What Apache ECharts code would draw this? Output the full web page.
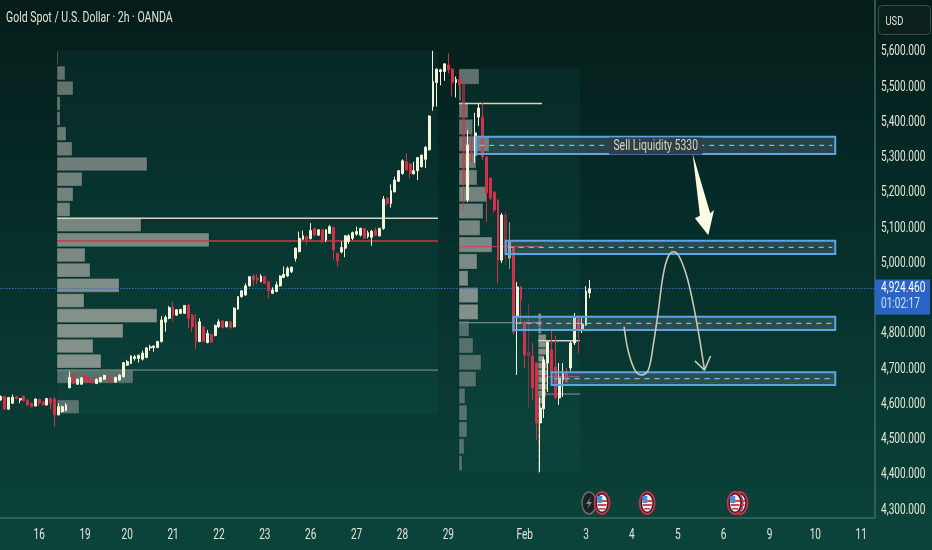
<!DOCTYPE html>
<html><head><meta charset="utf-8">
<style>html,body{margin:0;padding:0;background:#0a3530}#c{width:932px;height:550px}</style>
<script src="https://cdn.jsdelivr.net/npm/echarts@6/dist/echarts.min.js"></script></head>
<body><div id="c"></div>
<script>
// Price ticks and day labels
const priceTicks = [4300,4400,4500,4600,4700,4800,5000,5100,5200,5300,5400,5500,5600];
const dayTickBars = [10,22,33,45,57,69,81,93,105,117,137,153,165,177,189,201,213,225];
const dayLabels = ['16','19','20','21','22','23','26','27','28','29','Feb','3','4','5','6','9','10','11'];
const lastPrice = 4924.46;
const countdown = '01:02:17';
const chartTitle = 'Gold Spot / U.S. Dollar · 2h · OANDA';
const currency = 'USD';
// [open, close, low, high] per 2h bar
const candles = [
[4608,4618,4606,4621],[4618,4582,4580,4620],[4582,4615,4580,4617],[4599,4616,4597,4624],[4618,4612,4610,4620],
[4608,4612,4599,4613],[4618,4606,4604,4622],[4608,4594,4592,4610],[4599,4589,4587,4601],[4591,4611,4590,4612],
[4610,4599,4591,4611],[4603,4594,4592,4605],[4594,4612,4592,4614],[4612,4599,4582,4614],[4610,4566,4533,4618],
[4566,4589,4564,4599],[4575,4589,4573,4592],[4578,4594,4576,4599],[4643,4672,4641,4689],[4682,4655,4653,4684],
[4653,4667,4651,4669],[4653,4671,4651,4673],[4679,4660,4658,4682],[4670,4660,4658,4672],[4665,4657,4655,4667],
[4655,4667,4653,4669],[4660,4672,4658,4674],[4667,4678,4665,4680],[4674,4665,4663,4676],[4667,4660,4658,4669],
[4659,4672,4657,4674],[4665,4679,4663,4681],[4674,4714,4672,4716],[4707,4717,4705,4722],[4712,4733,4710,4735],
[4726,4731,4720,4736],[4726,4735,4714,4737],[4724,4741,4720,4748],[4729,4756,4727,4758],[4756,4759,4748,4765],
[4757,4761,4745,4763],[4757,4774,4755,4776],[4774,4835,4771,4847],[4829,4843,4802,4848],[4840,4870,4837,4875],
[4873,4849,4830,4887],[4849,4864,4847,4866],[4854,4865,4852,4867],[4854,4876,4852,4878],[4878,4840,4812,4880],
[4849,4816,4802,4851],[4823,4774,4753,4851],[4774,4830,4772,4840],[4816,4774,4772,4818],[4771,4797,4769,4807],
[4794,4772,4770,4796],[4791,4820,4789,4822],[4816,4830,4812,4837],[4832,4814,4811,4835],[4816,4830,4814,4832],
[4830,4814,4809,4832],[4816,4869,4814,4871],[4866,4901,4864,4903],[4901,4918,4899,4920],[4906,4932,4904,4939],
[4932,4958,4930,4960],[4960,4949,4932,4965],[4954,4949,4937,4965],[4944,4960,4942,4965],[4958,4939,4937,4960],
[4944,4918,4897,4946],[4911,4920,4909,4928],[4916,4935,4914,4944],[4932,4960,4930,4962],[4956,4965,4954,4987],
[4960,4982,4958,4987],[4972,4985,4968,4987],[5010,5039,5001,5041],[5029,5067,5027,5086],[5064,5074,5062,5089],
[5072,5062,5049,5074],[5066,5089,5064,5110],[5095,5076,5074,5097],[5076,5091,5074,5093],[5091,5062,5053,5093],
[5062,5091,5056,5093],[5081,5100,5079,5105],[5098,5034,5007,5100],[5024,5003,4988,5026],[5028,5041,5024,5058],
[5039,5074,5013,5076],[5058,5074,5051,5079],[5067,5083,5062,5086],[5079,5086,5074,5100],[5076,5095,5072,5097],
[5095,5067,5065,5097],[5072,5083,5067,5089],[5070,5087,5046,5091],[5089,5075,5073,5098],[5074,5095,5072,5097],
[5095,5178,5091,5187],[5181,5166,5160,5183],[5166,5202,5154,5220],[5199,5232,5197,5242],[5229,5259,5227,5261],
[5251,5287,5247,5291],[5284,5261,5259,5308],[5278,5251,5237,5280],[5250,5259,5248,5284],[5259,5296,5232,5298],
[5270,5303,5268,5305],[5291,5325,5267,5329],[5318,5414,5316,5416],[5441,5512,5429,5599],[5509,5547,5441,5549],
[5540,5545,5501,5548],[5540,5562,5514,5564],[5559,5545,5535,5592],[5547,5509,5469,5550],[5509,5518,5467,5526],
[5518,5502,5497,5540],[5507,5224,5147,5510],[5176,5332,5170,5374],[5312,5309,5281,5360],[5303,5366,5281,5423],
[5411,5437,5386,5451],[5411,5298,5289,5451],[5298,5196,5113,5300],[5238,5181,5175,5240],[5198,5147,5140,5200],
[5176,5005,4940,5178],[5005,5133,4997,5139],[5133,5020,4991,5144],[5011,5057,4980,5113],[5042,4801,4795,5045],
[4844,4929,4679,4943],[4929,4892,4829,4931],[4829,4736,4699,4831],[4745,4733,4585,4881],[4733,4642,4608,4770],
[4713,4543,4495,4715],[4543,4585,4404,4617],[4583,4722,4557,4730],[4713,4773,4631,4775],[4750,4685,4683,4807],
[4702,4614,4612,4790],[4614,4671,4594,4713],[4665,4685,4617,4713],[4685,4659,4657,4699],[4699,4770,4691,4775],
[4770,4841,4764,4855],[4841,4807,4741,4843],[4810,4824,4798,4841],[4821,4917,4818,4931],[4912,4924,4897,4949]
];
const fadedBars = [121,132,133,138];
// Volume profiles (rows top to bottom)
const profile1Volumes = [1,8,16,3,3,9,15,90,25,16,13,84,152,28,33,62,27,100,66,36,44,76,0,22];
const profile2Volumes = [20,2,9,13.5,30,17,18,28,24,21,33,18,9,19,19,10,14,22,17,6,8,8,5,3];
const profile3Volumes = [3,3,3,8,8,8,6,9,10,10,9,8,5,3,3,2,2,2,2,2,2,2,1];
const profile1Faint = [21,23];
const profile2Faint = [15,16,17,18,19,20,21,22,23];
const profile3Faint = [];
const profile1Range = {startBar:14.65, top:5598.6, step:43.05};
const profile2Range = {startBar:119.8, top:5547.5, step:47.7};
const profile3Range = {startBar:140.5, top:4854, step:19.9};
const sessionBoxes = [[14.9,114.3,5598.6,4568],[119.8,151.4,5550,4404]];
// [fromBar, toBar, price, kind]
const levelLines = [
[14.65,114.3,5124,'cream'],[14.65,114.3,5059.3,'red'],[14.65,114.3,4693,'grey'],
[119.8,141.5,5449.6,'cream'],[119.8,141.5,5043.2,'redThin'],[119.8,141.5,4827.8,'grey'],
[140.5,151.4,4776.4,'cream'],[140.5,151.4,4674.2,'redThin'],[140.5,151.4,4625,'grey']];
// [fromBar, toBar, highPrice, lowPrice]
const zones = [[124.3,218.2,5355.3,5306],[132,218.2,5060,5022.5],[134,218.2,4844.5,4806.8],[144,218.2,4686.7,4650.7]];
const zoneLabel = 'Sell Liquidity 5330';
const curveBars = [162.96,164.1,165.8,167.6,169.3,170.6,171.9,173.2,174.5,175.9,177.4,179.4,181.1,182.7,184];
const curvePrices = [4816,4745,4693,4679,4693,4764,4859,4963,5015,5029,5015,4958,4878,4783,4693];
const curveHeadBars = [181.5,184,185.6];
const curveHeadPrices = [4719,4693,4733];
const downArrowBars = [180.9,185.5,186.5,185,181.5,182.8];
const downArrowPrices = [5308,5138,5147,5076,5124,5131];
const eventBars = [153.8,193.3,192,169,157.2];
const eventKinds = ['bolt','flag','flag','flag','flag'];
const eventPrice = 4315.8;

const FONT = 'Roboto,"Liberation Sans",sans-serif';
const SQUEEZE = 0.72;
const chart = echarts.init(document.getElementById('c'));
const profileRows = (vols, r, faint) => vols.map((v,i)=>[r.startBar, r.top-i*r.step, r.top-(i+0.9)*r.step, v, faint.includes(i)?1:0]);
const allProfile = [].concat(profileRows(profile1Volumes,profile1Range,profile1Faint),profileRows(profile2Volumes,profile2Range,profile2Faint),profileRows(profile3Volumes,profile3Range,profile3Faint));
const lineStyles = {cream:{stroke:'#d5d6bd',lineWidth:1.4},red:{stroke:'#d2354a',lineWidth:1.6},redThin:{stroke:'#c9405a',lineWidth:1},grey:{stroke:'#74877f',lineWidth:1.2}};
const barsPerVol = 1/3.823;
const squeezedText = (x,y,text,fill,size,align) => ({type:'text',x:x,y:y,scaleX:SQUEEZE,style:{x:0,y:0,text:text,fill:fill,font:size+'px '+FONT,align:align||'left',verticalAlign:'middle'}});

chart.setOption({
  animation:false,
  backgroundColor:{type:'linear',x:0,y:0,x2:0,y2:1,colorStops:[{offset:0,color:'#051c19'},{offset:.35,color:'#052b27'},{offset:1,color:'#0b443b'}]},
  grid:{left:0,right:57,top:0,bottom:32,outerBoundsMode:'none'},
  xAxis:{type:'value',min:-0.26,max:228.6,position:'bottom',splitLine:{show:false},axisTick:{show:false},
    axisLine:{show:true,onZero:false,lineStyle:{color:'#3f6a60',width:1.5}},axisLabel:{show:false}},
  yAxis:{type:'value',min:4273.2,max:5743.3,position:'right',splitLine:{show:false},axisTick:{show:false},
    axisLine:{show:true,onZero:false,lineStyle:{color:'#3f6a60',width:1.5}},axisLabel:{show:false}},
  graphic:[{type:'group',left:878,top:5,silent:true,children:[
    {type:'rect',shape:{x:0,y:0,width:52,height:29,r:4},style:{fill:'#0b1f1c',stroke:'#33514a',lineWidth:1}},
    squeezedText(7,16,currency,'#dfe3d2',13)]},
    {type:'group',left:6,top:11,silent:true,children:[squeezedText(0,9.5,chartTitle,'#e0e4d4',14.6)]}],
  series:[
    {type:'custom',name:'sessions',z:1,silent:true,data:sessionBoxes,renderItem:(p,api)=>{
      const a=api.coord([api.value(0),api.value(2)]),b=api.coord([api.value(1),api.value(3)]);
      return {type:'rect',shape:{x:a[0],y:a[1],width:b[0]-a[0],height:b[1]-a[1]},style:{fill:'rgba(30,125,115,0.10)'}};}},
    {type:'custom',name:'profile',z:2,silent:true,clip:false,data:allProfile,renderItem:(p,api)=>{
      if(!api.value(3))return null;
      const a=api.coord([api.value(0),api.value(1)]),b=api.coord([api.value(0)+api.value(3)*barsPerVol,api.value(2)]);
      const alpha=api.value(4)?0.42:Math.min(0.68,0.48+0.2*(a[1]-50)/250);
      return {type:'rect',shape:{x:a[0],y:a[1],width:b[0]-a[0],height:b[1]-a[1]},style:{fill:'rgba(190,185,180,'+alpha+')',stroke:'rgba(0,30,25,.25)',lineWidth:1}};}},
    {type:'custom',name:'levels',z:3,silent:true,data:levelLines,renderItem:(p,api)=>{
      const r=levelLines[p.dataIndex];const a=api.coord([r[0],r[2]]),b=api.coord([r[1],r[2]]);
      return {type:'line',shape:{x1:a[0],y1:a[1],x2:b[0],y2:b[1]},style:lineStyles[r[3]]};}},
    {type:'line',name:'last',z:4,silent:true,symbol:'none',data:[[-0.26,lastPrice],[228.6,lastPrice]],lineStyle:{color:'#2f6fc4',width:1,type:[1.5,1.5]}},
    {type:'candlestick',name:'XAUUSD',z:5,silent:true,barWidth:2.4,encode:{x:0,y:[1,2,3,4]},
      itemStyle:{color:'#f4f4da',color0:'#d0324a',borderColor:'#f4f4da',borderColor0:'#d0324a',borderWidth:1},
      data:candles.map((c,i)=>fadedBars.includes(i)?{value:[i,c[0],c[1],c[2],c[3]],itemStyle:{opacity:.55}}:[i,c[0],c[1],c[2],c[3]])},
    {type:'custom',name:'zones',z:6,silent:true,data:zones,renderItem:(p,api)=>{
      const r=zones[p.dataIndex];const a=api.coord([r[0],r[2]]),b=api.coord([r[1],r[3]]);const my=(a[1]+b[1])/2;
      const kids=[
        {type:'rect',shape:{x:a[0],y:a[1],width:b[0]-a[0],height:b[1]-a[1]},style:{fill:'rgba(130,145,165,0.28)',stroke:'#5aa5e6',lineWidth:2}},
        {type:'line',shape:{x1:a[0]+3,y1:my,x2:b[0]-3,y2:my},style:{stroke:'#72bce8',lineWidth:1.2,lineDash:[5,5]}}];
      if(p.dataIndex===0){const t=squeezedText((a[0]+b[0])/2,my+0.5,zoneLabel,'#d6d4c4',14.5,'center');t.style.backgroundColor='#2d4047';t.style.padding=[1,6];kids.push(t);}
      return {type:'group',children:kids};}},
    {type:'line',name:'path',z:7,silent:true,symbol:'none',smooth:.35,data:curveBars.map((b,i)=>[b,curvePrices[i]]),lineStyle:{color:'#c8c6b2',width:1.6}},
    {type:'line',name:'pathHead',z:7,silent:true,symbol:'none',data:curveHeadBars.map((b,i)=>[b,curveHeadPrices[i]]),lineStyle:{color:'#c8c6b2',width:1.6}},
    {type:'custom',name:'arrow',z:7,silent:true,data:[0],renderItem:(p,api)=>({type:'polygon',shape:{points:downArrowBars.map((b,i)=>api.coord([b,downArrowPrices[i]]))},style:{fill:'#fdfbe4'}})},
    {type:'custom',name:'priceLabels',z:8,silent:true,clip:false,data:priceTicks.map(v=>[228.6,v]),renderItem:(p,api)=>{
      const a=api.coord([api.value(0),api.value(1)]);
      return squeezedText(a[0]+6,a[1]+1.5,priceTicks[p.dataIndex].toLocaleString('en-US')+'.000','#e6e8d8',14);}},
    {type:'custom',name:'dayLabels',z:8,silent:true,clip:false,data:dayTickBars.map(b=>[b,4273.2]),renderItem:(p,api)=>{
      const a=api.coord([api.value(0),api.value(1)]);
      return squeezedText(a[0],a[1]+17,dayLabels[p.dataIndex],'#e3e6d8',14,'center');}},
    {type:'custom',name:'lastTag',z:8,silent:true,clip:false,data:[[228.6,lastPrice]],renderItem:(p,api)=>{
      const a=api.coord([api.value(0),api.value(1)]);
      return {type:'group',x:a[0],y:a[1],children:[
        {type:'rect',shape:{x:0,y:-9,width:55,height:35},style:{fill:'#2a64c4'}},
        squeezedText(6,0,lastPrice.toLocaleString('en-US',{minimumFractionDigits:3}),'#ffffff',14),
        squeezedText(6,16,countdown,'#cfe0fa',14)]};}},
    {type:'custom',name:'events',z:9,silent:true,clip:false,data:eventBars.map(b=>[b,eventPrice]),renderItem:(p,api)=>{
      const a=api.coord([api.value(0),api.value(1)]);
      if(eventKinds[p.dataIndex]==='bolt')return {type:'group',x:a[0],y:a[1],children:[
        {type:'ellipse',shape:{cx:0,cy:0,rx:7,ry:11},style:{fill:'#1a2226',stroke:'#6d6a6c',lineWidth:1.5}},
        {type:'polygon',shape:{points:[[2,-6],[-3,1],[0,1],[-2,6],[3,-1],[0,-1]]},style:{fill:'#8a8a8a'}}]};
      return {type:'group',x:a[0],y:a[1],children:[
        {type:'ellipse',shape:{cx:0,cy:0,rx:7.5,ry:11},style:{fill:'#1b2530',stroke:'#d02f4c',lineWidth:1.8}},
        {type:'ellipse',shape:{cx:0,cy:0,rx:5.2,ry:8.6},style:{fill:'#f2efe6'}},
        {type:'rect',shape:{x:-4.5,y:1,width:9,height:2},style:{fill:'#d8444f'}},
        {type:'rect',shape:{x:0,y:-3,width:5,height:2},style:{fill:'#d8444f'}},
        {type:'rect',shape:{x:-3,y:5,width:6,height:1.6},style:{fill:'#d8444f'}},
        {type:'rect',shape:{x:-4.8,y:-7,width:5,height:7},style:{fill:'#4f8fd9'}}]};}}
  ]
});
</script></body></html>
